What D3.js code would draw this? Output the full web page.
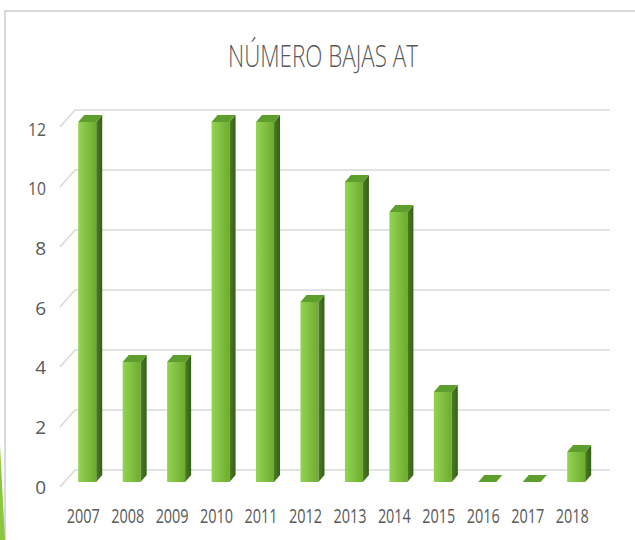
<!DOCTYPE html>
<html>
<head>
<meta charset="utf-8">
<script src="https://cdn.jsdelivr.net/npm/d3@7"></script>
<style>
  html, body { margin: 0; padding: 0; background: #fff; }
  svg { display: block; }
  text { font-family: "Open Sans", "Noto Sans", sans-serif; fill: #595959; }
</style>
</head>
<body>
<svg id="chart" width="635" height="540"></svg>
<script>
const title = "NÚMERO BAJAS AT";
const years = ["2007","2008","2009","2010","2011","2012","2013","2014","2015","2016","2017","2018"];
const values = [12, 4, 4, 12, 12, 6, 10, 9, 3, 0, 0, 1];
const yTicks = [0, 2, 4, 6, 8, 10, 12];

const svg = d3.select("#chart");
const W = 635, H = 540;

// defs
const defs = svg.append("defs");
const gFront = defs.append("linearGradient").attr("id", "front").attr("x1", "0").attr("x2", "1").attr("y1", "0").attr("y2", "0");
gFront.append("stop").attr("offset", "0%").attr("stop-color", "#93d451");
gFront.append("stop").attr("offset", "100%").attr("stop-color", "#6eab30");
const gSide = defs.append("linearGradient").attr("id", "side").attr("x1", "0").attr("x2", "1").attr("y1", "0").attr("y2", "0");
gSide.append("stop").attr("offset", "0%").attr("stop-color", "#4a7d22");
gSide.append("stop").attr("offset", "100%").attr("stop-color", "#375f18");

// border
svg.append("path")
  .attr("d", `M5,${H} L5,11 L${W},11`)
  .attr("fill", "none").attr("stroke", "#d9d9d9").attr("stroke-width", 2);

// decorative green wedge bottom-left
svg.append("path")
  .attr("d", "M0,445 L5,540 L0,540 Z")
  .attr("fill", "#8dc63f");

// title
svg.append("text")
  .attr("x", 323).attr("y", 67)
  .attr("text-anchor", "middle")
  .attr("font-size", 31)
  .attr("font-weight", 300)
  .attr("textLength", 190).attr("lengthAdjust", "spacingAndGlyphs")
  .text(title);

// scales
const yBack = d3.scaleLinear().domain([0, 12]).range([470, 110]);
const x = d3.scaleBand().domain(years).range([65, 598.4]).paddingInner(0).paddingOuter(0);
const depthDX = -15, depthDY = 17;   // back wall -> front edge
const barDX = 6, barDY = -7;         // bar depth
const barFrontOffY = 12;             // bar front plane vs back wall
const barW = 18;

// gridlines (back wall + left diagonal)
const grid = svg.append("g");
yTicks.forEach(t => {
  const yb = yBack(t);
  grid.append("path")
    .attr("d", `M${75 + depthDX},${yb + depthDY} L75,${yb} L610,${yb}`)
    .attr("fill", "none").attr("stroke", "#d9d9d9").attr("stroke-width", 1.5);
});

// y axis labels via d3 axis
const yLabelScale = d3.scaleLinear().domain([0, 12]).range([yBack(0) + depthDY, yBack(12) + depthDY + 2]);
const yAxis = svg.append("g").attr("transform", "translate(46,0)")
  .call(d3.axisLeft(yLabelScale).tickValues(yTicks).tickSize(0).tickPadding(0).tickFormat(d3.format("d")));
yAxis.select(".domain").remove();
yAxis.selectAll("text").attr("font-size", 19).style("fill", "#595959")
  .attr("font-family", "Open Sans, sans-serif")
  .each(function(d) { if (String(d).length > 1) d3.select(this).attr("textLength", 18).attr("lengthAdjust", "spacingAndGlyphs"); });

// bars
const bars = svg.append("g");
years.forEach((yr, i) => {
  const v = values[i];
  const cx = x(yr) + x.bandwidth() / 2;
  const x0 = cx - barW / 2, x1 = cx + barW / 2;
  const yb = yBack(0) + barFrontOffY;
  const yt = yBack(v) + barFrontOffY;
  const g = bars.append("g");
  if (v > 0) {
    g.append("rect").attr("x", x0).attr("y", yt).attr("width", barW).attr("height", yb - yt)
      .attr("fill", "url(#front)");
    g.append("path")
      .attr("d", `M${x1},${yt} L${x1 + barDX},${yt + barDY} L${x1 + barDX},${yb + barDY} L${x1},${yb} Z`)
      .attr("fill", "url(#side)");
  }
  g.append("path")
    .attr("d", `M${x0},${yt} L${x0 + barDX},${yt + barDY} L${x1 + barDX},${yt + barDY} L${x1},${yt} Z`)
    .attr("fill", "#5e9e2c");
});

// x axis labels
const xAxis = svg.append("g").attr("transform", "translate(-4,516)")
  .call(d3.axisBottom(x).tickSize(0).tickPadding(0));
xAxis.select(".domain").remove();
xAxis.selectAll("text")
  .attr("y", 0).attr("dy", "0.35em")
  .attr("font-size", 20).style("fill", "#595959")
  .attr("font-family", "Open Sans, sans-serif")
  .attr("textLength", 33).attr("lengthAdjust", "spacingAndGlyphs");
</script>
</body>
</html>
